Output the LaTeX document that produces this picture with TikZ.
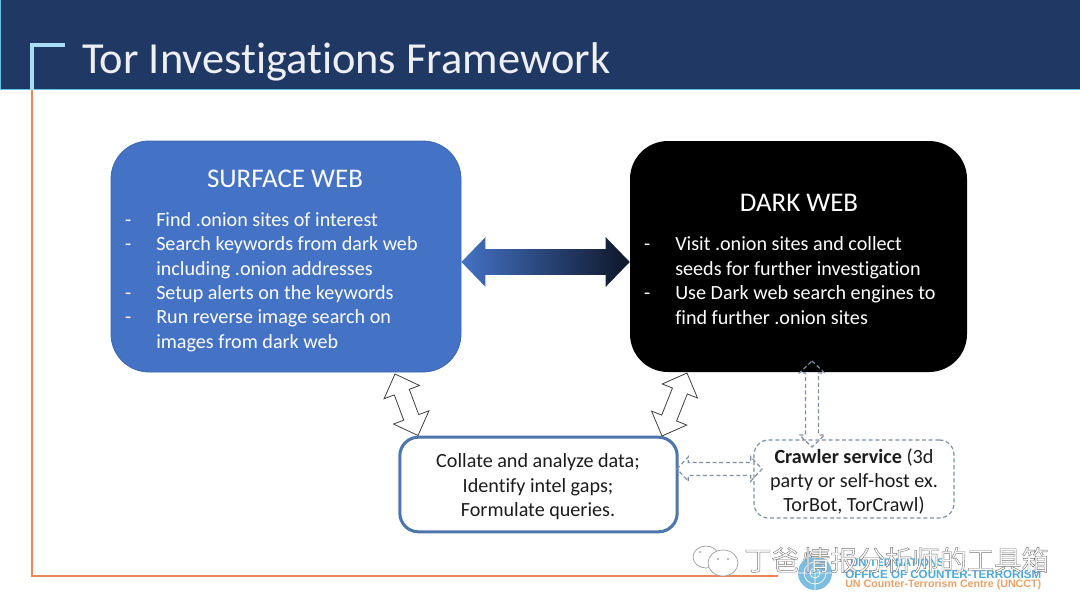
\documentclass[tikz,border=0pt]{standalone}
\usepackage{fontspec}
\setmainfont[Ligatures=CommonOff]{Carlito}
\newfontfamily\cjk{Noto Sans CJK SC}
\newfontfamily\logofont{Liberation Sans}
\usetikzlibrary{calc}
\definecolor{headerblue}{HTML}{1F3864}
\definecolor{headerline}{HTML}{5FC3E4}
\definecolor{bracketlight}{HTML}{A9DDF3}
\definecolor{framorange}{HTML}{E8875C}
\definecolor{surfaceblue}{HTML}{4472C4}
\definecolor{surfaceedge}{HTML}{3F66AE}
\definecolor{collateedge}{HTML}{4F75AE}
\definecolor{dashgray}{HTML}{7F8FA6}
\definecolor{bodyink}{HTML}{1C1C1C}
\definecolor{arrowdark}{HTML}{0E1628}
\definecolor{unblue}{HTML}{4FA8D5}
\definecolor{unorange}{HTML}{E9A26A}
\newcommand{\blockarrow}[6][]{%
  \path[#1] (#2)
  -- ($(#2)!#4!(#3)!#5!90:(#3)$) -- ($(#2)!#4!(#3)!#6!90:(#3)$)
  -- ($(#3)!#4!(#2)!#6!-90:(#2)$) -- ($(#3)!#4!(#2)!#5!-90:(#2)$)
  -- (#3)
  -- ($(#3)!#4!(#2)!#5!90:(#2)$) -- ($(#3)!#4!(#2)!#6!90:(#2)$)
  -- ($(#2)!#4!(#3)!#6!-90:(#3)$) -- ($(#2)!#4!(#3)!#5!-90:(#3)$)
  -- cycle;}
\tikzset{
  bodytext/.style={inner sep=0pt,text=bodyink,align=center,font=\fontsize{15.1}{18.3}\selectfont},
  bullettext/.style={inner sep=0pt,align=left,anchor=west,font=\fontsize{15.1}{18.3}\selectfont},
  headtext/.style={inner sep=0pt,font=\fontsize{20.2}{24}\selectfont},
  bigbox/.style={rounded corners=28.5pt,minimum height=173.25pt,inner sep=0pt},
  whitearrow/.style={draw=black!75,line width=.6pt,fill=white},
  dasharrow/.style={draw=dashgray,line width=.9pt,dash pattern=on 3pt off 2pt,fill=white,fill opacity=0},
  logotext/.style={inner sep=0pt,anchor=west,font=\logofont\bfseries\fontsize{8}{9}\selectfont},
  watermark/.style={inner sep=0pt,anchor=west,font=\cjk\fontsize{20.5}{22}\selectfont}
}
\begin{document}
\begin{tikzpicture}[x=0.75pt,y=-0.75pt]
\useasboundingbox (0,0) rectangle (1080,608);
\fill[white] (0,0) rectangle (1080,608);
% header
\fill[headerblue] (0,0) rectangle (1080,89);
\draw[headerline,line width=1.3pt] (0,89.5) -- (1080,89.5);
\draw[headerline,line width=.6pt] (0.5,0) -- (0.5,89);
\draw[framorange,line width=1.9pt] (32,90) -- (32,576) -- (778,576);
\draw[bracketlight,line width=2.4pt] (32,90) -- (32,45) -- (65,45);
\node[inner sep=0pt,anchor=base west,text=white!92!headerblue,font=\fontsize{33.3}{36}\selectfont] (title) at (82,73) {Tor Investigations Framework};
% boxes
\node[bigbox,fill=surfaceblue,draw=surfaceedge,line width=.6pt,minimum width=262.5pt] (surface) at (286,256.5) {};
\node[bigbox,fill=black,minimum width=252.75pt] (dark) at (798.5,256.5) {};
\node[draw=collateedge,line width=2.3pt,fill=white,rounded corners=14pt,minimum width=208pt,minimum height=71pt,inner sep=0pt] (collate) at (538.5,484.5) {};
\node[draw=dashgray,line width=.9pt,dash pattern=on 3pt off 2pt,rounded corners=11pt,minimum width=150pt,minimum height=58.5pt,inner sep=0pt] (crawler) at (854,479) {};
% texts
\node[headtext,text=white] (surfacehead) at (285,179) {SURFACE WEB};
\node[bullettext,text=white] (surfacebody) at (156,282) {%
\llap{-\hspace{18.75pt}}Find .onion sites of interest\\
\llap{-\hspace{18.75pt}}Search keywords from dark web\\
including .onion addresses\\
\llap{-\hspace{18.75pt}}Setup alerts on the keywords\\
\llap{-\hspace{18.75pt}}Run reverse image search on\\
images from dark web};
\node[headtext,text=white] (darkhead) at (799,203) {DARK WEB};
\node[bullettext,text=white] (darkbody) at (675,280.5) {%
\llap{-\hspace{18.75pt}}Visit .onion sites and collect\\
seeds for further investigation\\
\llap{-\hspace{18.75pt}}Use Dark web search engines to\\
find further .onion sites};
\node[bodytext] (collatetext) at (538,487) {Collate and analyze data;\\Identify intel gaps;\\Formulate queries.};
\node[bodytext] (crawlertext) at (854,481.5) {\textbf{Crawler service} (3d\\party or self-host ex.\\TorBot, TorCrawl)};
% connector ends
\coordinate (ba1) at ($(surface.east)+(0,5.5)$);
\coordinate (ba2) at ($(dark.west)+(0,5.5)$);
\coordinate (wa1) at (395,374);
\coordinate (wa2) at (418,435.5);
\coordinate (wb1) at (687,373);
\coordinate (wb2) at (662,436);
\coordinate (da1) at (812,361);
\coordinate (da2) at (812,447);
\coordinate (db1) at (677,469);
\coordinate (db2) at (762,469);
% connectors
\blockarrow[left color=surfaceblue,right color=arrowdark,draw=none]{ba1}{ba2}{18pt}{18.6pt}{9.6pt}
\blockarrow[whitearrow]{wa1}{wa2}{14.5pt}{14.2pt}{6pt}
\blockarrow[whitearrow]{wb1}{wb2}{14.5pt}{14.2pt}{6pt}
\blockarrow[dasharrow]{da1}{da2}{9pt}{9.5pt}{4.9pt}
\blockarrow[dasharrow]{db1}{db2}{8.5pt}{9.2pt}{4.9pt}
% UN logo
\fill[unblue!75] (815,573) circle[radius=17];
\draw[white,line width=.5pt] (815,573) circle[radius=11] (815,573) circle[radius=5] (798,573) -- (832,573) (815,556) -- (815,590);
\node[logotext,text=unblue,font=\logofont\bfseries\fontsize{8.4}{9}\selectfont] (untitle) at (850,562.5) {UNITED NATIONS};
\node[logotext,text=unblue,font=\logofont\bfseries\fontsize{8.7}{9}\selectfont] (unoffice) at (845,574) {OFFICE OF COUNTER-TERRORISM};
\node[logotext,text=unorange] (uncentre) at (845,585) {UN Counter-Terrorism Centre (UNCCT)};
% watermark
\draw[black!40,line width=.5pt,fill=white] (706,557) ellipse[x radius=13,y radius=11];
\draw[black!40,line width=.5pt,fill=white] (723,563) ellipse[x radius=15,y radius=13];
\fill[black!35] (718,559) circle[radius=1.2] (728,559) circle[radius=1.2] (700,552) circle[radius=1.2];
\node[watermark,text=white] (wm) at (744,560) {\special{pdf:code 2 Tr 0.3 w 0.45 0.45 0.45 RG}丁爸\hspace{3pt}情报分析师的工具箱\special{pdf:code 0 Tr}};
\end{tikzpicture}
\end{document}
